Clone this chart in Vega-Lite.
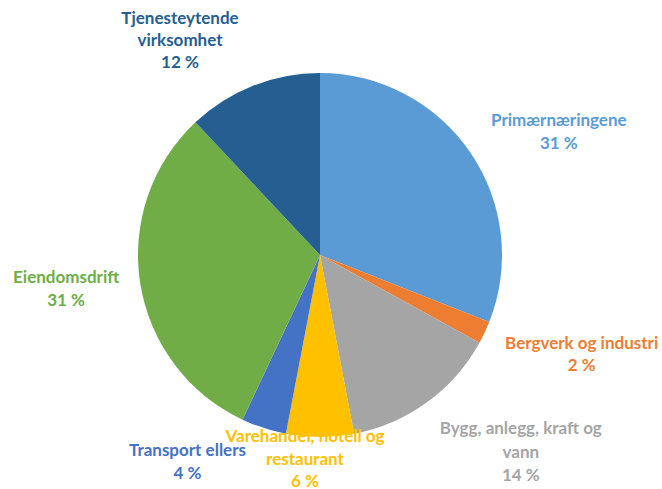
{
  "$schema": "https://vega.github.io/schema/vega-lite/v6.json",
  "autosize": "none",
  "width": 600,
  "height": 468,
  "padding": {"left": 20, "top": 21, "right": 42, "bottom": 0},
  "background": "white",
  "data": {
    "values": [
      {"nr": 1, "naering": "Primærnæringene", "andel": 31, "etikett": "Primærnæringene\n31 %"},
      {"nr": 2, "naering": "Bergverk og industri", "andel": 2, "etikett": "Bergverk og industri\n2 %"},
      {"nr": 3, "naering": "Bygg, anlegg, kraft og vann", "andel": 14, "etikett": "Bygg, anlegg, kraft og\nvann\n14 %"},
      {"nr": 4, "naering": "Varehandel, hotell og restaurant", "andel": 6, "etikett": "Varehandel, hotell og\nrestaurant\n6 %"},
      {"nr": 5, "naering": "Transport ellers", "andel": 4, "etikett": "Transport ellers\n4 %"},
      {"nr": 6, "naering": "Eiendomsdrift", "andel": 31, "etikett": "Eiendomsdrift\n31 %"},
      {"nr": 7, "naering": "Tjenesteytende virksomhet", "andel": 12, "etikett": "Tjenesteytende\nvirksomhet\n12 %"}
    ]
  },
  "encoding": {
    "theta": {"field": "andel", "type": "quantitative", "stack": true},
    "order": {"field": "nr", "type": "quantitative"},
    "color": {
      "field": "naering",
      "type": "nominal",
      "legend": null,
      "scale": {
        "domain": ["Primærnæringene", "Bergverk og industri", "Bygg, anlegg, kraft og vann", "Varehandel, hotell og restaurant", "Transport ellers", "Eiendomsdrift", "Tjenesteytende virksomhet"],
        "range": ["#5B9BD5", "#ED7D31", "#A5A5A5", "#FFC000", "#4472C4", "#70AD47", "#255E91"]
      }
    }
  },
  "layer": [
    {"mark": {"type": "arc", "outerRadius": 182}},
    {
      "mark": {"type": "text", "radius": 267, "dx": 18, "dy": 16, "font": "Lato", "fontWeight": "bold", "fontSize": 17, "lineBreak": "\n", "lineHeight": 23, "align": "center", "baseline": "middle"},
      "encoding": {"text": {"condition": {"test": "datum.nr === 1", "field": "etikett"}, "value": ""}}
    },
    {
      "mark": {"type": "text", "radius": 277, "dx": 11, "dy": -29, "font": "Lato", "fontWeight": "bold", "fontSize": 17, "lineBreak": "\n", "lineHeight": 22, "align": "center", "baseline": "middle"},
      "encoding": {"text": {"condition": {"test": "datum.nr === 2", "field": "etikett"}, "value": ""}}
    },
    {
      "mark": {"type": "text", "radius": 277, "dx": 38, "dy": -50, "font": "Lato", "fontWeight": "bold", "fontSize": 17, "lineBreak": "\n", "lineHeight": 23.5, "align": "center", "baseline": "middle"},
      "encoding": {"text": {"condition": {"test": "datum.nr === 3", "field": "etikett"}, "value": ""}}
    },
    {
      "mark": {"type": "text", "radius": 205, "dx": -15, "dy": -23, "font": "Lato", "fontWeight": "bold", "fontSize": 17, "lineBreak": "\n", "lineHeight": 22.5, "align": "center", "baseline": "middle"},
      "encoding": {"text": {"condition": {"test": "datum.nr === 4", "field": "etikett"}, "value": ""}}
    },
    {
      "mark": {"type": "text", "radius": 238, "dx": -59, "dy": -30, "font": "Lato", "fontWeight": "bold", "fontSize": 17, "lineBreak": "\n", "lineHeight": 23, "align": "center", "baseline": "middle"},
      "encoding": {"text": {"condition": {"test": "datum.nr === 5", "field": "etikett"}, "value": ""}}
    },
    {
      "mark": {"type": "text", "radius": 256, "dx": -1, "dy": -17, "font": "Lato", "fontWeight": "bold", "fontSize": 17, "lineBreak": "\n", "lineHeight": 23, "align": "center", "baseline": "middle"},
      "encoding": {"text": {"condition": {"test": "datum.nr === 6", "field": "etikett"}, "value": ""}}
    },
    {
      "mark": {"type": "text", "radius": 250, "dx": -48, "dy": -4, "font": "Lato", "fontWeight": "bold", "fontSize": 17, "lineBreak": "\n", "lineHeight": 22, "align": "center", "baseline": "middle"},
      "encoding": {"text": {"condition": {"test": "datum.nr === 7", "field": "etikett"}, "value": ""}}
    }
  ],
  "config": {"view": {"stroke": null}}
}
